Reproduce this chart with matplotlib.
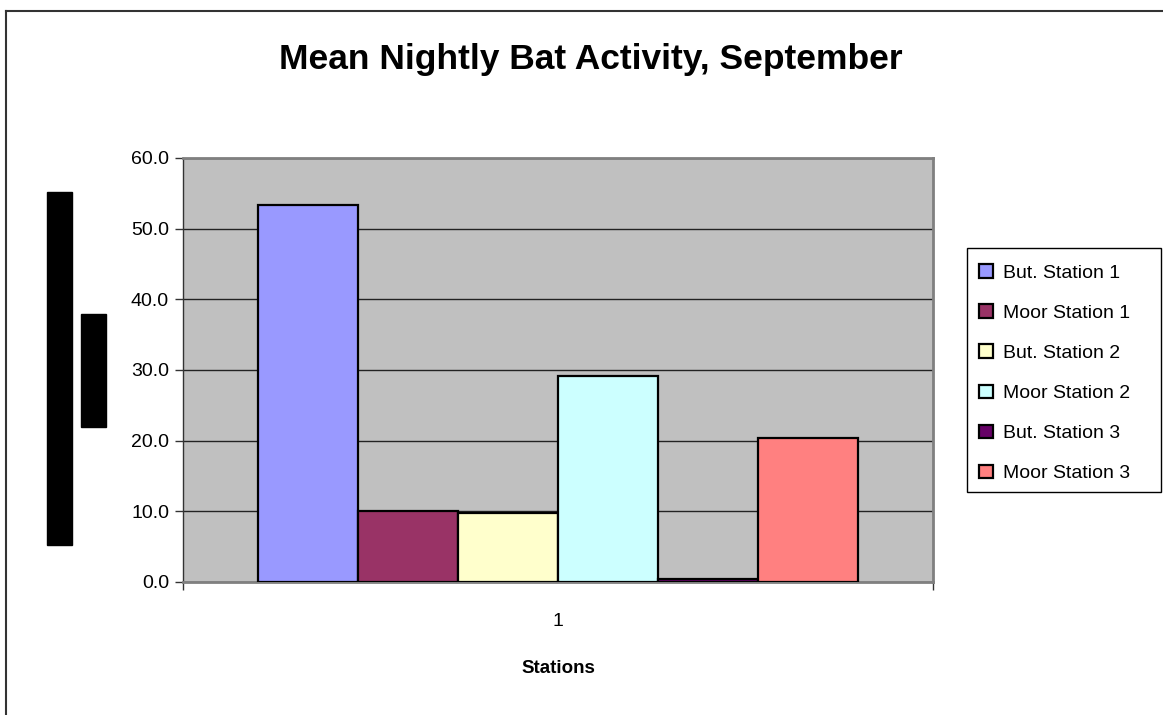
import matplotlib.pyplot as plt
from matplotlib.patches import Rectangle
from matplotlib.lines import Line2D
import numpy as np

plt.rcParams['font.family'] = ['Liberation Sans', 'DejaVu Sans']

# mean nightly activity per station, September
stations = ["But. Station 1", "Moor Station 1", "But. Station 2",
            "Moor Station 2", "But. Station 3", "Moor Station 3"]
activity = [53.4, 10.0, 9.7, 29.1, 0.4, 20.4]
colors = ["#9999FF", "#993366", "#FFFFCC", "#CCFFFF", "#660066", "#FF8080"]
category = [1]
y_ticks = [0, 10, 20, 30, 40, 50, 60]

W, H = 1163, 715
fig = plt.figure(figsize=(W / 100, H / 100), dpi=100)
ax = fig.add_axes([183 / W, 1 - 582 / H, 750 / W, 424 / H])

bar_w = 0.8 / len(stations)
handles = []
for i, (name, val, col) in enumerate(zip(stations, activity, colors)):
    x = category[0] + (i - (len(stations) - 1) / 2) * bar_w
    b = ax.bar(x, val, width=bar_w, color=col, edgecolor="black",
               linewidth=1.6, label=name, zorder=3)
    handles.append(b)

ax.set_xlim(0.5, 1.5)
ax.set_ylim(0, 60)
ax.set_facecolor("#C0C0C0")
ax.set_yticks(y_ticks)
ax.set_yticklabels([f"{v:.1f}" for v in y_ticks], fontsize=14)
ax.set_xticks(category)
ax.set_xticklabels(["1"], fontsize=14)
ax.set_xticks([0.5, 1.5], minor=True)
ax.tick_params(axis="x", which="major", length=0, pad=22)
ax.tick_params(axis="x", which="minor", length=6, width=1, color="#333333")
ax.tick_params(axis="y", length=6, width=1, color="#333333", pad=4)
ax.yaxis.grid(True, color="#222222", linewidth=1.0, zorder=1)
ax.set_axisbelow(True)
for s in ax.spines.values():
    s.set_color("#808080")
    s.set_linewidth(2)
ax.spines["left"].set_color("#333333")
ax.spines["left"].set_linewidth(1)

ax.set_xlabel("Stations", fontsize=13.5, fontweight="bold", labelpad=22)

fig.text(591 / W, 1 - 59 / H, "Mean Nightly Bat Activity, September",
         ha="center", va="center", fontsize=25.5, fontweight="bold")

# legend entries without frame, box drawn separately
leg = fig.legend(handles=handles, labels=stations, loc="upper left",
                 bbox_to_anchor=(979 / W, 1 - 264 / H), fontsize=14,
                 frameon=False, handlelength=0.7, handleheight=0.7,
                 handletextpad=0.55, labelspacing=1.16, borderpad=0,
                 borderaxespad=0)
fig.patches.append(Rectangle((967 / W, 1 - 492 / H), 194 / W, 244 / H,
                             transform=fig.transFigure, facecolor="white",
                             edgecolor="black", linewidth=1, zorder=0))

# dark blocks at the left of the plot
fig.patches.append(Rectangle((47 / W, 1 - 545 / H), 25 / W, 353 / H,
                             transform=fig.transFigure, color="black"))
fig.patches.append(Rectangle((81 / W, 1 - 427 / H), 25 / W, 113 / H,
                             transform=fig.transFigure, color="black"))

# outer chart frame
fig.lines.append(Line2D([6 / W, 6 / W], [0, 1 - 11 / H],
                        transform=fig.transFigure, color="#333333", lw=1.5))
fig.lines.append(Line2D([6 / W, 1], [1 - 11 / H, 1 - 11 / H],
                        transform=fig.transFigure, color="#333333", lw=1.5))

fig.savefig("out.png", dpi=100)
